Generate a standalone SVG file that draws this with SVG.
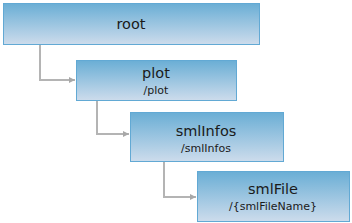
<svg xmlns="http://www.w3.org/2000/svg" width="352" height="223" viewBox="0 0 352 223">
<style>
.box{fill:url(#g);stroke:#62a9d4;stroke-width:1}
.t{font-family:"DejaVu Sans",Verdana,sans-serif;font-size:14.5px;fill:#1a1a1a;text-anchor:middle}
.s{font-family:"DejaVu Sans",Verdana,sans-serif;font-size:11px;fill:#1a1a1a;text-anchor:middle}
.c{fill:none;stroke:#b4b4b4;stroke-width:2}
</style>
<defs>
<linearGradient id="g" x1="0" y1="0" x2="0" y2="1">
<stop offset="0" stop-color="#6aaed5"/>
<stop offset="1" stop-color="#cddcec"/>
</linearGradient>
<marker id="a" markerWidth="6" markerHeight="6" refX="6" refY="3" orient="auto" markerUnits="userSpaceOnUse">
<path d="M0,0 L6,3 L0,6 Z" fill="#a8a8a8"/>
</marker>
</defs>
<g id="connectors">
<path class="c" d="M40,44 V80 H75" marker-end="url(#a)"/>
<path class="c" d="M97,100 V134 H129" marker-end="url(#a)"/>
<path class="c" d="M164,161 V197 H196" marker-end="url(#a)"/>
</g>
<g id="root">
<rect class="box" x="3.5" y="3.5" width="256" height="41"/>
<text class="t" x="131" y="29">root</text>
</g>
<g id="plot">
<rect class="box" x="76.5" y="60.5" width="160" height="40"/>
<text class="t" x="156" y="78">plot</text>
<text class="s" x="156" y="94">/plot</text>
</g>
<g id="smlInfos">
<rect class="box" x="130.5" y="112.5" width="153" height="49"/>
<text class="t" x="206" y="136">smlInfos</text>
<text class="s" x="206" y="152">/smlInfos</text>
</g>
<g id="smlFile">
<rect class="box" x="197.5" y="171.5" width="152" height="50"/>
<text class="t" x="273" y="194">smlFile</text>
<text class="s" x="273" y="210">/{smlFileName}</text>
</g>
</svg>
